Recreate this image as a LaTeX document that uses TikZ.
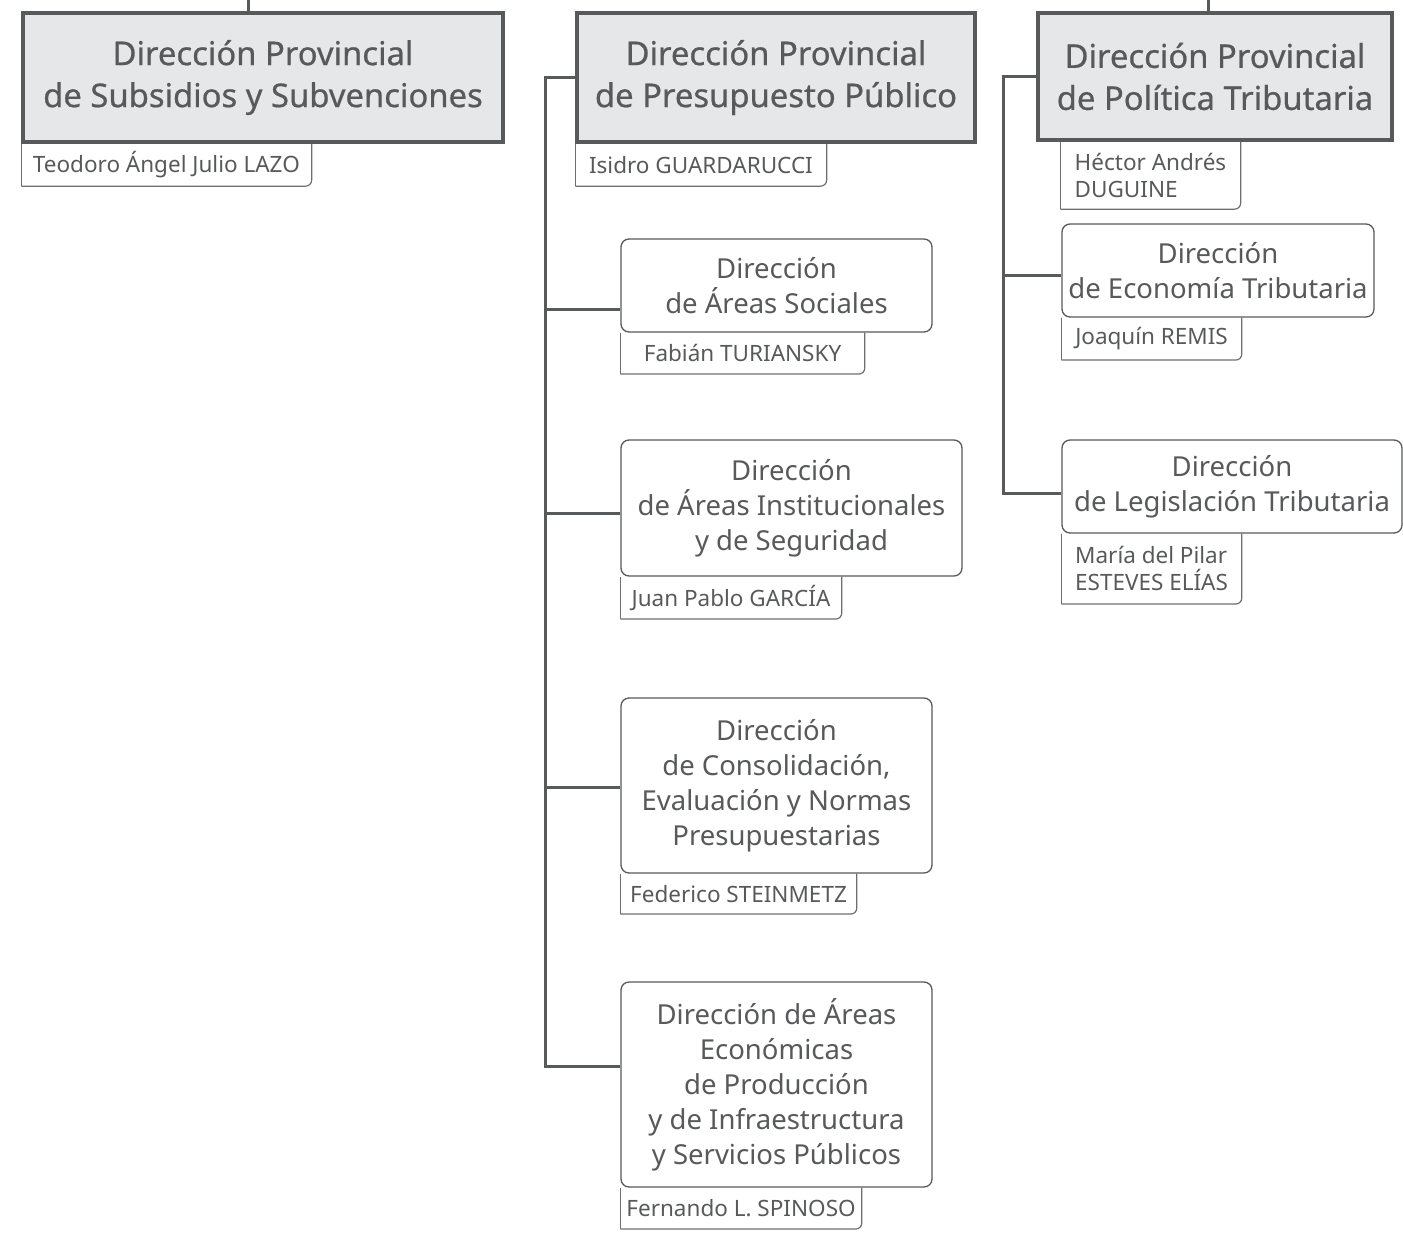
\documentclass[tikz,border=0pt]{standalone}
\usepackage{fontspec}
\setmainfont{Noto Sans}
\newfontfamily\headfamily[FakeBold=0.6]{Noto Sans}
\usepackage{tikz}
\definecolor{linegray}{HTML}{58595B}
\definecolor{namegray}{HTML}{6D6E71}
\definecolor{headfill}{HTML}{E6E7E8}
\newcommand{\headfont}{\headfamily\fontsize{32.8}{42}\selectfont}
\newcommand{\subfont}{\fontsize{27.5}{35}\selectfont}
\newcommand{\namefont}{\fontsize{22.5}{27}\selectfont}
\tikzstyle{headbox}=[draw=linegray, fill=headfill, line width=3.5pt, text=linegray, font=\headfont, align=center, inner sep=0pt]
\tikzstyle{subbox}=[draw=linegray, fill=white, line width=1.3pt, rounded corners=8pt, text=linegray, font=\subfont, align=center, inner sep=0pt]
\tikzstyle{namebox}=[text=linegray, font=\namefont, inner sep=0pt, anchor=north west]
\tikzstyle{nameline}=[draw=namegray, line width=1.2pt]
\tikzstyle{link}=[draw=linegray, line width=3pt]

\begin{document}
\begin{tikzpicture}[x=1pt, y=-1pt]
		   \useasboundingbox (0,0) rectangle (1403,1245);
		   \begin{scope}
			   \node (subs) at (263, 77.5)[headbox, minimum width=480, minimum height=129] {Dirección Provincial\\de Subsidios y Subvenciones};
			   \node (pres) at (776, 77.5)[headbox, minimum width=398, minimum height=129] {Dirección Provincial\\de Presupuesto Público};
			   \node (trib) at (1215, 76.5)[headbox, minimum width=354, minimum height=127] {Dirección Provincial\\de Política Tributaria};
			   \node (soc) at (776.5, 285.5)[subbox, minimum width=311, minimum height=93] {Dirección\\de Áreas Sociales};
			   \node (ins) at (791.5, 508)[subbox, minimum width=341, minimum height=136] {Dirección\\de Áreas Institucionales\\y de Seguridad};
			   \node (con) at (776.5, 785.5)[subbox, minimum width=311, minimum height=175] {Dirección\\de Consolidación,\\Evaluación y Normas\\Presupuestarias};
			   \node (eco) at (776.5, 1084.5)[subbox, minimum width=311, minimum height=205] {Dirección de Áreas\\Económicas\\de Producción\\y de Infraestructura\\y Servicios Públicos};
			   \node (etr) at (1218, 270.5)[subbox, minimum width=312, minimum height=93] {Dirección\\de Economía Tributaria};
			   \node (leg) at (1232, 486.5)[subbox, minimum width=340, minimum height=93] {Dirección\\de Legislación Tributaria};
		   \end{scope}
		   \begin{scope}
			   \node (lazo) at (subs.south west)[namebox, minimum width=290, minimum height=42] {Teodoro Ángel Julio LAZO};
			   \node (guar) at (pres.south west)[namebox, minimum width=251, minimum height=42] {Isidro GUARDARUCCI};
			   \node (dugu) at (trib.south west)[namebox, minimum width=180, minimum height=67, align=left, xshift=24] {Héctor Andrés\\DUGUINE};
			   \node (turi) at (soc.south west)[namebox, minimum width=244, minimum height=41] {Fabián TURIANSKY};
			   \node (garc) at (ins.south west)[namebox, minimum width=221, minimum height=42] {Juan Pablo GARCÍA};
			   \node (stei) at (con.south west)[namebox, minimum width=236, minimum height=40] {Federico STEINMETZ};
			   \node (spin) at (eco.south west)[namebox, minimum width=241, minimum height=41] {Fernando L. SPINOSO};
			   \node (remi) at (etr.south west)[namebox, minimum width=180, minimum height=42] {Joaquín REMIS};
			   \node (este) at (leg.south west)[namebox, minimum width=180, minimum height=70, align=left] {María del Pilar\\ESTEVES ELÍAS};
			   \foreach \n in {lazo, guar, dugu, turi, garc, stei, spin, remi, este} {
				   \draw [nameline] (\n.north west) -- (\n.south west);
				   \draw [nameline, rounded corners=6pt] (\n.south west) -- (\n.south east) -- (\n.north east);
			   }
		   \end{scope}
		   \begin{scope}
			   \coordinate (top1) at (248, 0);
			   \coordinate (top3) at (1208, 0);
			   \coordinate (ltrunk) at (545, 1066);
			   \coordinate (lb1) at (545, 309);
			   \coordinate (lb2) at (545, 513);
			   \coordinate (lb3) at (545, 787);
			   \coordinate (rtrunk) at (1003, 493);
			   \coordinate (rb1) at (1003, 275);
			   \path [link] (top1) -- (top1 |- subs.north);
			   \path [link] (top3) -- (top3 |- trib.north);
			   \path [link] (pres.west) -| (ltrunk) -- (ltrunk -| eco.west);
			   \path [link] (lb1) -- (lb1 -| soc.west);
			   \path [link] (lb2) -- (lb2 -| ins.west);
			   \path [link] (lb3) -- (lb3 -| con.west);
			   \path [link] (trib.west) -| (rtrunk) -- (rtrunk -| leg.west);
			   \path [link] (rb1) -- (rb1 -| etr.west);
		   \end{scope}
\end{tikzpicture}
\end{document}
